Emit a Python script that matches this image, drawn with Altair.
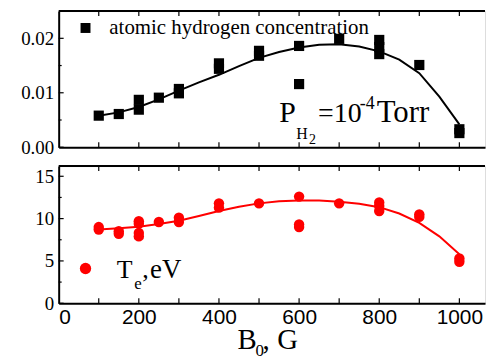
import altair as alt
import pandas as pd

# ---------------- data ----------------
b_sq = [100, 150, 200, 200, 250, 300, 300, 400, 400, 500, 500, 600, 600,
        700, 800, 800, 800, 900, 1000, 1000]
h_conc = [0.0058, 0.0061, 0.0087, 0.0069, 0.0091, 0.0107, 0.0099, 0.0154, 0.0144,
          0.0177, 0.0168, 0.0186, 0.0116, 0.0199, 0.0197, 0.0184, 0.0171, 0.0151,
          0.0033, 0.0026]

b_te = [100, 100, 150, 150, 200, 200, 200, 200, 250, 300, 300, 400, 400, 500,
        600, 600, 600, 700, 800, 800, 800, 900, 900, 1000, 1000]
te = [9.0, 8.7, 8.5, 8.2, 9.7, 9.4, 8.3, 7.9, 9.6, 10.1, 9.6, 11.8, 11.3, 11.8,
      12.6, 9.3, 9.0, 11.8, 11.9, 11.5, 10.9, 10.5, 10.2, 5.3, 4.9]

fit_b = [100, 150, 200, 250, 300, 350, 400, 450, 500, 550, 600, 650, 700, 750,
         800, 850, 900, 950, 1000]
fit_h = [0.0058, 0.0064, 0.0074, 0.0088, 0.0104, 0.0119, 0.0133, 0.0149, 0.0164,
         0.0175, 0.0183, 0.0188, 0.0189, 0.0185, 0.0176, 0.0161, 0.0136, 0.0093,
         0.0042]
fit_te = [8.7, 8.85, 9.05, 9.35, 9.75, 10.3, 10.9, 11.4, 11.8, 12.05, 12.15, 12.15,
          12.0, 11.75, 11.35, 10.6, 9.5, 7.9, 5.8]

x_ticks = [100, 200, 300, 400, 500, 600, 700, 800, 900, 1000]
x_labels = [0, 200, 400, 600, 800, 1000]
h_major = [0.0, 0.01, 0.02]
h_minor = [0.005, 0.015]
te_major = [0, 5, 10, 15]
te_minor = [2.5, 7.5, 12.5]

W = 429
H1 = 137
H2 = 138
XDOM = [0, 1064]
HDOM = [0, 0.025]
TDOM = [0, 16.2]
SERIF = "Liberation Serif"
SANS = "Liberation Sans"

one = pd.DataFrame({"k": [0]})


def txt(s, x, y, size, color="black", font=SERIF):
    return alt.Chart(one).mark_text(
        text=s, align="left", baseline="alphabetic", fontSize=size, font=font, color=color
    ).encode(x=alt.value(x), y=alt.value(y))


def yaxis(values, fmt):
    return alt.Axis(values=values, format=fmt, ticks=False, grid=False, title=None,
                    domain=True, domainColor="black", domainWidth=2,
                    labelFont=SERIF, labelFontSize=19, labelColor="black",
                    labelPadding=5, minExtent=45, maxExtent=45)


def frame_layers(h, xs, xa, ys, ya, major, minor):
    tdf = pd.DataFrame({"b": x_ticks})
    top_line = alt.Chart(one).mark_rule(color="black", strokeWidth=2).encode(
        x=alt.value(0), x2=alt.value(W), y=alt.value(0))
    xt_bot = alt.Chart(tdf).mark_rule(color="black", strokeWidth=1.2).encode(
        x=alt.X("b:Q", scale=xs, axis=xa), y=alt.value(h), y2=alt.value(h - 5))
    xt_top = alt.Chart(tdf).mark_rule(color="black", strokeWidth=1.2).encode(
        x=alt.X("b:Q", scale=xs, axis=xa), y=alt.value(0), y2=alt.value(5))
    ymaj = alt.Chart(pd.DataFrame({"v": major})).mark_rule(color="black", strokeWidth=1.2).encode(
        y=alt.Y("v:Q", scale=ys, axis=ya), x=alt.value(0), x2=alt.value(5))
    ymin = alt.Chart(pd.DataFrame({"v": minor})).mark_rule(color="black", strokeWidth=1.2).encode(
        y=alt.Y("v:Q", scale=ys, axis=ya), x=alt.value(0), x2=alt.value(3))
    return [top_line, xt_bot, xt_top, ymaj, ymin]


# ---------------- top panel ----------------
xs_top = alt.Scale(domain=XDOM, nice=False, zero=False)
ys_top = alt.Scale(domain=HDOM, nice=False, zero=False)
x_top_axis = alt.Axis(labels=False, ticks=False, grid=False, title=None, domain=True,
                      domainColor="black", domainWidth=2)
y_top_axis = yaxis(h_major, ".2f")

top_df = pd.DataFrame({"b": b_sq, "h": h_conc})
fit_top_df = pd.DataFrame({"b": fit_b, "h": fit_h})

pts_top = alt.Chart(top_df).mark_point(shape="square", filled=True, color="black",
                                       size=105, opacity=1).encode(
    x=alt.X("b:Q", scale=xs_top, axis=x_top_axis),
    y=alt.Y("h:Q", scale=ys_top, axis=y_top_axis))
line_top = alt.Chart(fit_top_df).mark_line(color="black", strokeWidth=2).encode(
    x=alt.X("b:Q", scale=xs_top, axis=x_top_axis),
    y=alt.Y("h:Q", scale=ys_top, axis=y_top_axis))

leg_top = alt.Chart(one).mark_point(shape="square", filled=True, color="black",
                                    size=100, opacity=1).encode(
    x=alt.value(27), y=alt.value(17))

top = alt.layer(
    line_top, pts_top, leg_top,
    txt("atomic hydrogen concentration", 51, 23.5, 21),
    txt("P", 222, 111.7, 30),
    txt("H", 239, 128.3, 16),
    txt("2", 252, 133.3, 14),
    txt("=10", 261, 111.7, 28),
    txt("-4", 303, 99, 18),
    txt("Torr", 320, 111.7, 31),
    *frame_layers(H1, xs_top, x_top_axis, ys_top, y_top_axis, h_major, h_minor),
).properties(width=W, height=H1)

# ---------------- bottom panel ----------------
xs_bot = alt.Scale(domain=XDOM, nice=False, zero=False)
ys_bot = alt.Scale(domain=TDOM, nice=False, zero=False)
x_bot_axis = alt.Axis(values=x_labels, format="d", ticks=False, grid=False, title=None,
                      domain=True, domainColor="black", domainWidth=2,
                      labelFont=SANS, labelFontSize=21, labelColor="black",
                      labelPadding=3)
y_bot_axis = yaxis(te_major, "d")

bot_df = pd.DataFrame({"b": b_te, "t": te})
fit_bot_df = pd.DataFrame({"b": fit_b, "t": fit_te})

pts_bot = alt.Chart(bot_df).mark_circle(color="#ff0000", size=110, opacity=1).encode(
    x=alt.X("b:Q", scale=xs_bot, axis=x_bot_axis),
    y=alt.Y("t:Q", scale=ys_bot, axis=y_bot_axis))
line_bot = alt.Chart(fit_bot_df).mark_line(color="#ff0000", strokeWidth=2).encode(
    x=alt.X("b:Q", scale=xs_bot, axis=x_bot_axis),
    y=alt.Y("t:Q", scale=ys_bot, axis=y_bot_axis))
leg_bot = alt.Chart(one).mark_circle(color="#ff0000", size=130, opacity=1).encode(
    x=alt.value(27), y=alt.value(103))

bottom = alt.layer(
    line_bot, pts_bot, leg_bot,
    txt("T", 58.5, 112.3, 26),
    txt("e", 76, 123.3, 17),
    txt(",", 84, 112.3, 26),
    txt("eV", 92, 112.3, 27),
    txt("B", 180, 184, 29),
    txt("0", 198, 191, 17),
    txt(",", 205, 184, 29),
    txt("G", 220, 184, 29),
    *frame_layers(H2, xs_bot, x_bot_axis, ys_bot, y_bot_axis, te_major, te_minor),
).properties(width=W, height=H2)

chart = alt.vconcat(top, bottom, spacing=6).properties(
    padding={"left": 5, "top": 0, "right": 0, "bottom": 0}
).configure_view(strokeWidth=0).configure(background="white")

chart.save("out.html", embed_options={"renderer": "svg", "actions": False})
